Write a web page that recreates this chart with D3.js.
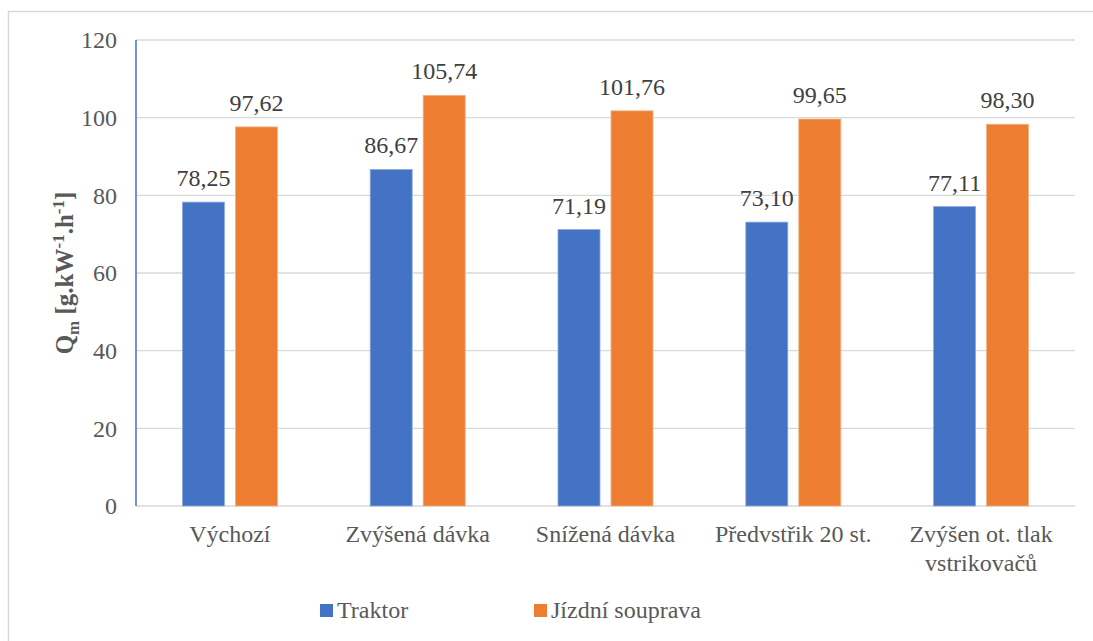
<!DOCTYPE html>
<html>
<head>
<meta charset="utf-8">
<script src="https://cdn.jsdelivr.net/npm/d3@7"></script>
<style>
  body { margin: 0; background: #fff; }
  svg text { font-family: "Liberation Serif", "Times New Roman", Tinos, serif; }
</style>
</head>
<body>
<script>
const categories = [
  ["Výchozí"],
  ["Zvýšená dávka"],
  ["Snížená dávka"],
  ["Předvstřik 20 st."],
  ["Zvýšen ot. tlak", "vstrikovačů"],
];
const seriesNames = ["Traktor", "Jízdní souprava"];
const traktor = [78.25, 86.67, 71.19, 73.10, 77.11];
const souprava = [97.62, 105.74, 101.76, 99.65, 98.30];
const yTicks = [0, 20, 40, 60, 80, 100, 120];
const colors = ["#4472C4", "#ED7D31"];
const strokes = ["#8FAADC", "#F4B183"];

const w = 1093;
const h = 641;
const margin = { left: 136, right: 18, top: 40, bottom: 135 };

const svg = d3.select("body").append("svg").attr("width", w).attr("height", h);

// outer chart frame (cropped on the right and bottom)
svg.append("rect")
  .attr("x", 8.5).attr("y", 11.5)
  .attr("width", w + 20).attr("height", h + 20)
  .attr("fill", "none").attr("stroke", "#d9d9d9").attr("stroke-width", 1.5);

const xScale = d3.scaleBand()
  .domain(d3.range(categories.length))
  .range([margin.left, w - margin.right]);

const yScale = d3.scaleLinear()
  .domain([0, 120])
  .range([h - margin.bottom, margin.top]);

const barW = 42;
const gap = 11;

// gridlines
svg.append("g")
  .selectAll("line")
  .data(yTicks)
  .enter()
  .append("line")
  .attr("x1", margin.left)
  .attr("x2", w - margin.right)
  .attr("y1", (d) => yScale(d))
  .attr("y2", (d) => yScale(d))
  .attr("stroke", "#d9d9d9")
  .attr("stroke-width", 1.3);

// y tick labels
const yAxis = d3.axisLeft(yScale).tickValues(yTicks).tickSize(0).tickPadding(19);
const gy = svg.append("g")
  .attr("transform", `translate(${margin.left}, 0)`)
  .call(yAxis);
gy.select(".domain").remove();
gy.selectAll("text")
  .style("font-size", "24px")
  .attr("fill", "#595959");

// bars
const groups = categories.map((c, i) => [traktor[i], souprava[i]]);
const barX = (i, s) => xScale(i) + xScale.bandwidth() / 2 + (s === 0 ? -gap / 2 - barW : gap / 2);

groups.forEach((vals, i) => {
  vals.forEach((v, s) => {
    svg.append("rect")
      .attr("x", barX(i, s))
      .attr("y", yScale(v))
      .attr("width", barW)
      .attr("height", yScale(0) - yScale(v))
      .attr("fill", colors[s])
      .attr("stroke", strokes[s])
      .attr("stroke-width", 0.8);

    svg.append("text")
      .attr("x", barX(i, s) + barW / 2)
      .attr("y", yScale(v) - 16)
      .attr("text-anchor", "middle")
      .style("font-size", "24px")
      .attr("fill", "#404040")
      .text(v.toFixed(2).replace(".", ","));
  });
});

// y axis line (blue)
svg.append("line")
  .attr("x1", margin.left).attr("x2", margin.left)
  .attr("y1", yScale(120)).attr("y2", yScale(0))
  .attr("stroke", "#4472C4").attr("stroke-width", 1.5);

// x axis category labels
const gx = svg.append("g");
categories.forEach((lines, i) => {
  const t = gx.append("text")
    .attr("x", xScale(i) + xScale.bandwidth() / 2)
    .attr("y", yScale(0) + 36)
    .attr("text-anchor", "middle")
    .style("font-size", "24px")
    .attr("fill", "#595959");
  lines.forEach((ln, k) => {
    t.append("tspan")
      .attr("x", xScale(i) + xScale.bandwidth() / 2)
      .attr("dy", k === 0 ? 0 : 29)
      .text(ln);
  });
});

// y axis title
const title = svg.append("text")
  .attr("transform", `translate(73, ${(yScale(0) + yScale(120)) / 2}) rotate(-90)`)
  .attr("text-anchor", "middle")
  .style("font-size", "25px")
  .style("font-weight", "bold")
  .attr("fill", "#595959");
title.append("tspan").text("Q");
title.append("tspan").attr("dy", 6).style("font-size", "17px").text("m");
title.append("tspan").attr("dy", -6).text(" [g.kW");
title.append("tspan").attr("dy", -9).style("font-size", "17px").text("-1");
title.append("tspan").attr("dy", 9).text(".h");
title.append("tspan").attr("dy", -9).style("font-size", "17px").text("-1");
title.append("tspan").attr("dy", 9).text("]");

// legend
const legendItems = [
  { name: seriesNames[0], x: 320 },
  { name: seriesNames[1], x: 534 },
];
legendItems.forEach((d, i) => {
  svg.append("rect")
    .attr("x", d.x).attr("y", 604)
    .attr("width", 13).attr("height", 13)
    .attr("fill", colors[i]);
  svg.append("text")
    .attr("x", d.x + 17).attr("y", 618)
    .style("font-size", "24px")
    .attr("fill", "#595959")
    .text(d.name);
});
</script>
</body>
</html>
